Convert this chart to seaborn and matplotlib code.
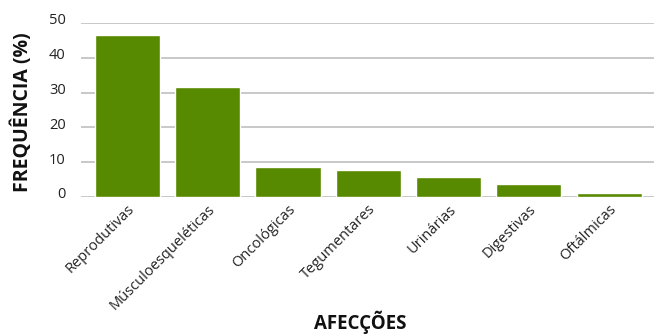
import matplotlib
matplotlib.use("Agg")
import matplotlib.pyplot as plt
import matplotlib.transforms as mtransforms
import seaborn as sns
import pandas as pd

categories = ["Reprodutivas", "Músculoesqueléticas", "Oncológicas", "Tegumentares",
              "Urinárias", "Digestivas", "Oftálmicas"]
values = [46.5, 31.5, 8.5, 7.8, 5.8, 3.7, 1.2]

sns.set_theme(style="white")
plt.rcParams['font.family'] = ['Open Sans', 'DejaVu Sans']

df = pd.DataFrame({"cat": categories, "val": values})
fig = plt.figure(figsize=(6.54, 3.34), dpi=100)
ax = fig.add_axes([81 / 654, 1 - 197 / 334, 573 / 654, 174 / 334])
sns.barplot(data=df, x="cat", y="val", color="#578A00", saturation=1, width=0.81, ax=ax)
ax.set_ylim(0, 50)
ax.set_xlim(-0.578, 6.558)
ax.set_yticks([0, 10, 20, 30, 40, 50])
ax.yaxis.grid(True, color="#c4c4c4", linewidth=1.3)
ax.set_axisbelow(True)
for s in ax.spines.values():
    s.set_visible(False)
ax.tick_params(axis='both', length=0, labelsize=10.5, colors="#222222")
ax.tick_params(axis='y', pad=11)
offset = mtransforms.ScaledTranslation(0, 4 / 100, fig.dpi_scale_trans)
for lbl in ax.get_yticklabels():
    lbl.set_transform(lbl.get_transform() + offset)
plt.setp(ax.get_xticklabels(), rotation=45, ha="right", rotation_mode="anchor")
ax.set_xlabel("AFECÇÕES", fontsize=13.5, fontweight="bold", color="#111111", va="center")
ax.xaxis.set_label_coords((360 - 81) / 573, (197 - 322) / 174)
ax.set_ylabel("FREQUÊNCIA (%)", fontsize=14, fontweight="bold", color="#111111", va="center")
ax.yaxis.set_label_coords((22 - 81) / 573, 0.49)
fig.savefig("out.png", dpi=100)
